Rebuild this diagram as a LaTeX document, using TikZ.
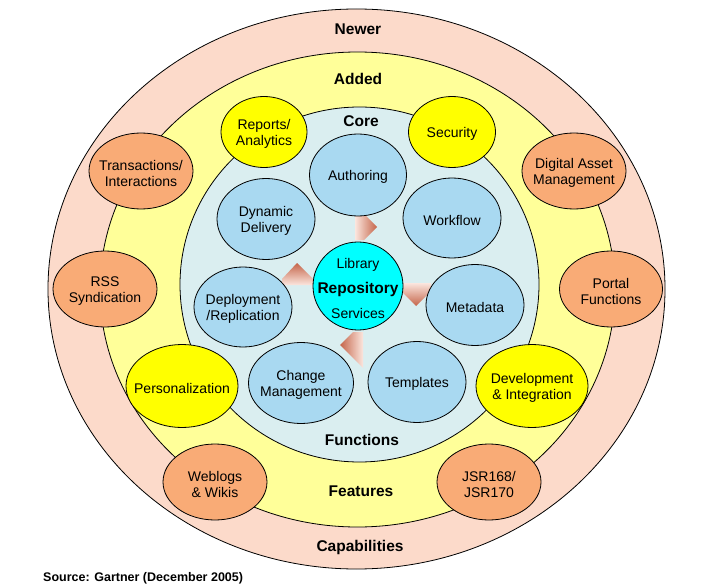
\documentclass[tikz,border=0pt]{standalone}
\usepackage{fontspec}
\setmainfont{Liberation Sans}
\usetikzlibrary{shapes.geometric}
\definecolor{outerc}{HTML}{FCDACA}
\definecolor{addedc}{HTML}{FFFF99}
\definecolor{corec}{HTML}{DAEEF0}
\definecolor{bluec}{HTML}{A9D9F1}
\definecolor{orangec}{HTML}{F9AB76}
\definecolor{yellowc}{HTML}{FFFF00}
\definecolor{cyanc}{HTML}{00FFFF}
\definecolor{arrd}{HTML}{C5654A}
\definecolor{arrl}{HTML}{FBE6DE}
\begin{document}
\begin{tikzpicture}[x=1pt,y=-1pt,
  ring/.style={ellipse,draw=black,line width=0.8pt,inner sep=0pt},
  bub/.style={ellipse,draw=black,line width=0.8pt,inner sep=0pt,
    label={[align=center,inner sep=0pt,yshift=-2pt,font=\fontsize{14}{16}\selectfont]center:{#1}}},
  bluebub/.style={bub={#1},fill=bluec},
  orangebub/.style={bub={#1},fill=orangec},
  yellowbub/.style={bub={#1},fill=yellowc},
  ringlabel/.style={font=\fontsize{15.5}{18}\selectfont\bfseries,inner sep=0pt},
  arrowpiece/.style={draw=none}
]
\useasboundingbox (0,0) rectangle (704,588);

% rings
\node[ring,fill=outerc,minimum width=617,minimum height=560] (outer) at (356.5,289) {};
\node[ring,fill=addedc,minimum width=515,minimum height=475] (added) at (357.5,289.5) {};
\node[ring,fill=corec,minimum width=359,minimum height=355] (core) at (359.5,284.5) {};

% ring labels
\node[ringlabel] (newer) at (358,29) {Newer};
\node[ringlabel] (addedlbl) at (358,79) {Added};
\node[ringlabel] (corelbl) at (361,121) {Core};
\node[ringlabel] (functions) at (362,440) {Functions};
\node[ringlabel] (features) at (361,491) {Features};
\node[ringlabel] (capabilities) at (360,547) {Capabilities};

% cycle arrow pieces
\path[arrowpiece,left color=arrl,right color=arrd]
  (355,214) -- (364,214) -- (377,227) -- (364,240) -- (355,240) -- cycle;
\path[arrowpiece,top color=arrd,bottom color=arrl]
  (282,285) -- (282,279) -- (297,263) -- (313,279) -- (313,285) -- cycle;
\path[arrowpiece,top color=arrl,bottom color=arrd]
  (402,283) -- (431,283) -- (431,291) -- (416,306) -- (402,292) -- cycle;
\path[arrowpiece,left color=arrd,right color=arrl]
  (340,345) -- (353,332) -- (363,332) -- (363,368) -- cycle;

% bubbles
\node[yellowbub={Reports/\\Analytics},minimum width=86,minimum height=71] (reports) at (264,132) {};
\node[yellowbub={Security},minimum width=87,minimum height=71] (security) at (452,132) {};
\node[orangebub={Transactions/\\Interactions},minimum width=104,minimum height=76] (trans) at (141,171) {};
\node[orangebub={Digital Asset\\Management},minimum width=104,minimum height=76] (dam) at (574,171) {};
\node[bluebub={Authoring},minimum width=97,minimum height=82] (authoring) at (358,175) {};
\node[bluebub={Dynamic\\Delivery},minimum width=98,minimum height=81] (dynamic) at (266,219) {};
\node[bluebub={Workflow},minimum width=98,minimum height=80] (workflow) at (452,218) {};
\node[orangebub={RSS\\Syndication},minimum width=104,minimum height=76] (rss) at (105,289) {};
\node[orangebub={Portal\\Functions},minimum width=103,minimum height=76] (portal) at (611,289) {};
\node[bluebub={Deployment\\/Replication},minimum width=98,minimum height=80] (deploy) at (243,307) {};
\node[bluebub={Metadata},minimum width=98,minimum height=81] (metadata) at (475,305) {};
\node[bub={Library\\[9pt]{\fontsize{15.5}{16}\selectfont\bfseries Repository}\\[9pt]Services},
  fill=cyanc,minimum width=90,minimum height=88] (repo) at (358,286) {};
\node[yellowbub={Personalization},minimum width=112,minimum height=83] (personal) at (182,386) {};
\node[bluebub={Change\\Management},minimum width=105,minimum height=81] (change) at (301,383) {};
\node[bluebub={Templates},minimum width=98,minimum height=81] (templates) at (417,382) {};
\node[yellowbub={Development\\\& Integration},minimum width=112,minimum height=83] (devint) at (532,386) {};
\node[orangebub={Weblogs\\\& Wikis},minimum width=104,minimum height=76] (weblogs) at (215,482) {};
\node[orangebub={JSR168/\\JSR170},minimum width=104,minimum height=76] (jsr) at (489,482) {};

% source
\node[anchor=west,inner sep=0pt,font=\fontsize{12.5}{14}\selectfont\bfseries] (source) at (43,578) {Source: Gartner (December 2005)};
\end{tikzpicture}
\end{document}
